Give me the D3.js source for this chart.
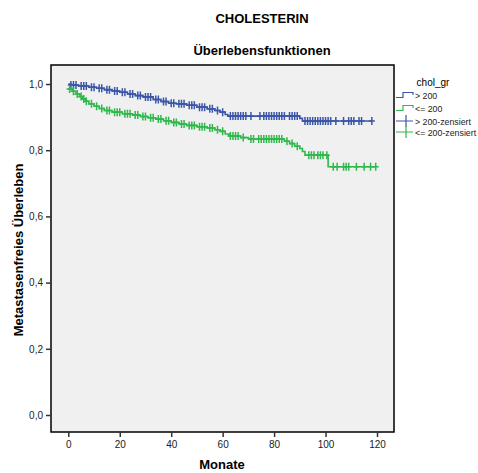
<!DOCTYPE html>
<html>
<head>
<meta charset="utf-8">
<script src="https://cdn.jsdelivr.net/npm/d3@7"></script>
<style>
  body { margin: 0; background: #fff; }
  text { font-family: 'Liberation Sans', Arial, sans-serif; }
</style>
</head>
<body>
<div id="chart"></div>
<script>
// groups and colours
const groups = ['> 200', '<= 200']
const colors = ['#3b56a8', '#2fb84c']

// step points [month, survival] per group
const stepsHigh = [
  [0, 1.0], [1, 0.997], [4, 0.994], [8, 0.990], [11, 0.987], [14, 0.983], [17, 0.979],
  [20, 0.975], [23, 0.970], [26, 0.965], [29, 0.961], [33, 0.953], [36, 0.947],
  [39, 0.942], [42, 0.940], [46, 0.936], [50, 0.930], [54, 0.925], [57, 0.920],
  [59, 0.915], [61, 0.908], [62, 0.903], [90, 0.896], [91, 0.888]
]
const stepsLow = [
  [0, 0.985], [1.5, 0.978], [3, 0.970], [4.5, 0.962], [5.5, 0.955], [6.5, 0.948],
  [8, 0.940], [10, 0.933], [12, 0.926], [14, 0.920], [17, 0.915], [21, 0.910],
  [25, 0.906], [28, 0.902], [31, 0.898], [34, 0.894], [37, 0.889], [40, 0.884],
  [43, 0.879], [46, 0.875], [50, 0.871], [54, 0.867], [57, 0.862], [59, 0.857],
  [61, 0.849], [62.5, 0.843], [67, 0.838], [70, 0.834], [84, 0.827], [86, 0.820],
  [88, 0.812], [90, 0.805], [91, 0.796], [92, 0.785], [101, 0.750]
]
const endHigh = 118
const endLow = 119.5

// censored months per group
const censHigh = [
  1, 2, 3, 5, 6, 7, 9, 10, 12, 13, 15, 16, 18, 19, 21, 22, 24, 25, 27, 28, 30, 31, 32,
  34, 35, 37, 38, 40, 41, 43, 44, 45, 47, 48, 49, 51, 52, 53, 55, 56, 58, 60,
  63, 64, 65, 66, 67, 68, 69, 71, 74.5, 76, 77, 78, 79, 80, 81, 82, 83, 84, 86, 87, 88, 89,
  92, 93, 94, 95, 96, 97, 98, 99, 100, 101, 102, 104, 107, 109, 110, 111, 113, 114, 118
]
const censLow = [
  0.5, 2, 3.5, 5, 6, 7, 9, 11, 13, 15, 16, 18, 19, 20, 22, 23, 24, 26, 27, 29, 30, 32,
  33, 35, 36, 38, 39, 41, 42, 44, 45, 47, 48, 49, 51, 52, 53, 55, 56, 58, 60,
  63, 64, 65, 66, 68, 71, 72, 74, 75, 76, 77, 78, 79, 80, 81, 82, 83,
  85, 87, 89, 93.5, 94.5, 95.5, 97, 98, 99, 100.5,
  103, 104.5, 107, 108, 109, 112, 115, 117.5, 119.5
]

const xTicks = [0, 20, 40, 60, 80, 100, 120]
const yTicks = [0, 0.2, 0.4, 0.6, 0.8, 1.0]
const legendLabels = ['> 200', '<= 200', '> 200-zensiert', '<= 200-zensiert']

const W = 478, H = 473
const plot = { left: 51, top: 65, right: 394, bottom: 432 }

const svg = d3.select('#chart').append('svg').attr('width', W).attr('height', H)

const x = d3.scaleLinear().domain([0, 120]).range([68.3, 377])
const y = d3.scaleLinear().domain([0, 1]).range([415, 84])

// plot background
svg.append('rect')
  .attr('x', plot.left).attr('y', plot.top)
  .attr('width', plot.right - plot.left).attr('height', plot.bottom - plot.top)
  .attr('fill', '#f0f0f0').attr('stroke', '#000').attr('stroke-width', 1.5)

// titles
svg.append('text').attr('x', 262).attr('y', 23).attr('text-anchor', 'middle')
  .attr('font-size', 13).attr('font-weight', 'bold').text('CHOLESTERIN')
svg.append('text').attr('x', 262).attr('y', 55).attr('text-anchor', 'middle')
  .attr('font-size', 13).attr('font-weight', 'bold').text('Überlebensfunktionen')

// axes
const xAxis = svg.append('g').attr('transform', `translate(0,${plot.bottom})`)
  .call(d3.axisBottom(x).tickValues(xTicks).tickSize(5).tickSizeOuter(0).tickPadding(4))
xAxis.select('.domain').remove()
xAxis.selectAll('text').attr('font-size', 10).attr('fill', '#222')
  .style('font-family', "'Liberation Sans', Arial, sans-serif")
xAxis.selectAll('line').attr('stroke', '#333').attr('stroke-width', 1.5)

const yAxis = svg.append('g').attr('transform', `translate(${plot.left},0)`)
  .call(d3.axisLeft(y).tickValues(yTicks).tickSize(5).tickSizeOuter(0).tickPadding(3)
    .tickFormat((d) => d3.format('.1f')(d).replace('.', ',')))
yAxis.select('.domain').remove()
yAxis.selectAll('text').attr('font-size', 10).attr('fill', '#222')
  .style('font-family', "'Liberation Sans', Arial, sans-serif")
yAxis.selectAll('line').attr('stroke', '#333').attr('stroke-width', 1.5)

svg.append('text').attr('x', 222).attr('y', 469).attr('text-anchor', 'middle')
  .attr('font-size', 13).attr('font-weight', 'bold').text('Monate')
svg.append('text').attr('transform', 'translate(23,250) rotate(-90)').attr('text-anchor', 'middle')
  .attr('font-size', 13).attr('font-weight', 'bold').text('Metastasenfreies Überleben')

// survival curves
const series = [
  { steps: stepsHigh, end: endHigh, cens: censHigh, color: colors[0] },
  { steps: stepsLow, end: endLow, cens: censLow, color: colors[1] },
]

const line = d3.line().x((d) => x(d[0])).y((d) => y(d[1])).curve(d3.curveStepAfter)
const survAt = (steps, t) => {
  let s = steps[0][1]
  steps.forEach((p) => { if (p[0] <= t) s = p[1] })
  return s
}

series.forEach((s) => {
  const pts = s.steps.concat([[s.end, s.steps[s.steps.length - 1][1]]])
  svg.append('path').attr('d', line(pts)).attr('fill', 'none')
    .attr('stroke', s.color).attr('stroke-width', 1.6)

  svg.append('g').selectAll('path')
    .data(s.cens)
    .join('path')
    .attr('d', (t) => {
      const cx = x(t), cy = y(survAt(s.steps, t))
      return `M${cx - 3},${cy}H${cx + 3}M${cx},${cy - 4}V${cy + 4}`
    })
    .attr('stroke', s.color).attr('stroke-width', 1.5)
})

// legend
svg.append('text').attr('x', 433).attr('y', 86).attr('text-anchor', 'middle')
  .attr('font-size', 10).text('chol_gr')
const rowsY = [95, 108, 121, 132]
legendLabels.forEach((lab, i) => {
  const cy = rowsY[i]
  const c = colors[i % 2]
  const g = svg.append('g')
  if (i < 2) {
    g.append('path').attr('d', `M396,${cy + 2.5}H403V${cy - 2.5}H413V${cy}`)
      .attr('fill', 'none').attr('stroke', c).attr('stroke-width', 1.2)
  } else {
    g.append('path').attr('d', `M396,${cy}H413M406,${cy - 6}V${cy + 6}`)
      .attr('fill', 'none').attr('stroke', c).attr('stroke-width', 1.2)
  }
  g.append('text').attr('x', 415).attr('y', cy + 3.5).attr('font-size', 8.8)
    .attr('fill', '#222').text(lab)
})
</script>
</body>
</html>
